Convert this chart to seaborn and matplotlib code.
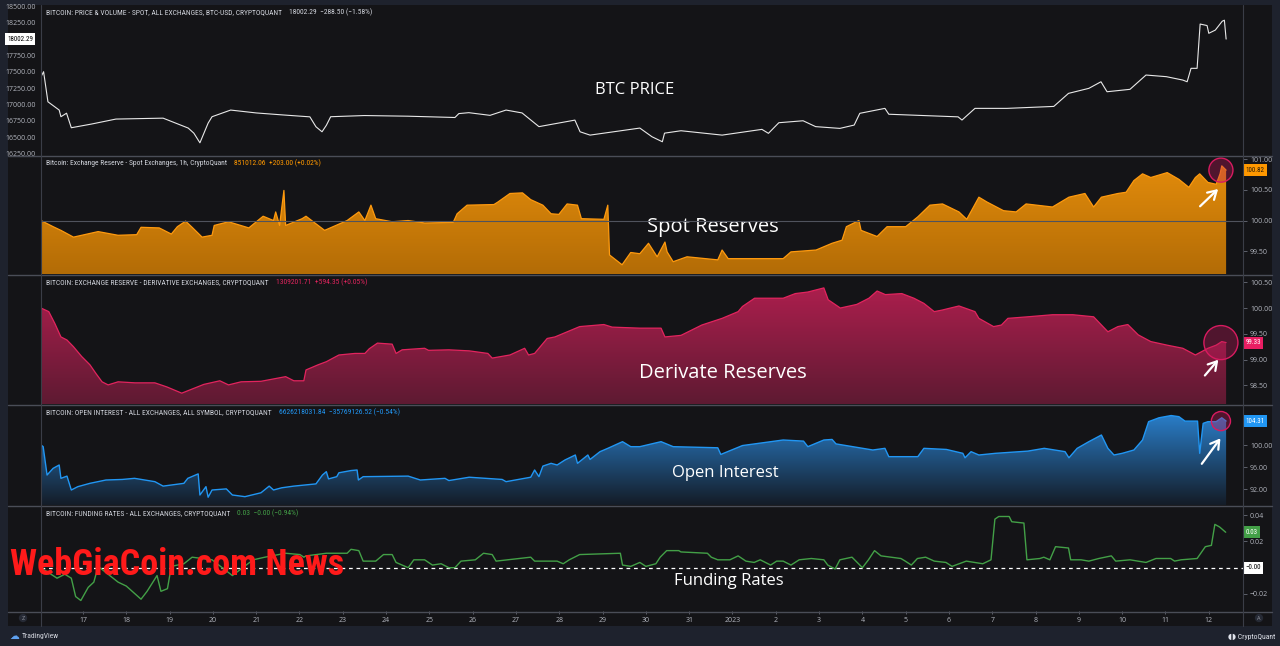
import numpy as np
import matplotlib
matplotlib.use("Agg")
import matplotlib.pyplot as plt
import seaborn as sns
from matplotlib import font_manager
from matplotlib.colors import LinearSegmentedColormap
from matplotlib.lines import Line2D
from matplotlib.patches import Rectangle
from matplotlib.text import OffsetFrom
from matplotlib.ticker import FuncFormatter

# -----------------------
# Data (x = days since 16 Dec 2022 00:00)
# -----------------------
price_days = [0.03, 0.09, 0.19, 0.45, 0.49, 0.62, 0.73, 1.2, 1.76, 2.85, 3.43, 3.56, 3.70, 3.89, 3.98,
              4.41, 5.0, 5.6, 6.24, 6.38, 6.52, 6.62, 6.72, 7.5, 8.5, 9.59, 9.68, 9.91, 10.40, 10.77,
              11.14, 11.53, 12.36, 12.48, 12.71, 13.86, 14.14, 14.38, 14.43, 14.81, 15.76, 16.68,
              16.83, 17.07, 17.63, 17.92, 18.48, 18.81, 18.94, 19.52, 19.61, 21.21, 21.30, 21.60,
              22.34, 23.42, 23.76, 24.23, 24.51, 24.65, 25.18, 25.55, 26.02, 26.40, 26.50, 26.59,
              26.73, 26.80, 26.96, 27.00, 27.15, 27.31, 27.36, 27.40]
price = [17425, 17502, 17041, 16914, 16812, 16866, 16643, 16700, 16776, 16790, 16638, 16560, 16412,
         16714, 16812, 16914, 16870, 16840, 16810, 16658, 16581, 16680, 16812, 16830, 16820, 16800,
         16860, 16874, 16833, 16914, 16870, 16660, 16760, 16581, 16530, 16638, 16505, 16428, 16560,
         16597, 16530, 16618, 16557, 16720, 16750, 16660, 16633, 16684, 16864, 16940, 16850, 16810,
         16761, 16940, 16940, 16970, 17170, 17247, 17348, 17195, 17232, 17451, 17426, 17374, 17348,
         17554, 17554, 18233, 18210, 18091, 18140, 18276, 18292, 18002.29]

spot_days = [0.03, 0.31, 0.49, 0.78, 0.97, 1.35, 1.81, 2.24, 2.34, 2.76, 3.04, 3.18, 3.37, 3.52, 3.75,
             3.98, 4.03, 4.36, 4.83, 5.16, 5.40, 5.45, 5.54, 5.64, 5.68, 6.06, 6.15, 6.58, 7.10, 7.37,
             7.51, 7.65, 7.76, 8.14, 8.51, 8.89, 9.55, 9.64, 9.87, 10.49, 10.58, 10.86, 11.15, 11.34,
             11.62, 11.81, 11.99, 12.18, 12.42, 12.51, 13.03, 13.12, 13.16, 13.45, 13.65, 13.86, 14.06,
             14.26, 14.44, 14.49, 14.63, 14.95, 15.66, 15.76, 15.90, 17.17, 17.35, 17.93, 18.30, 18.53,
             18.63, 18.92, 18.97, 19.34, 19.57, 20.00, 20.28, 20.56, 20.85, 21.23, 21.41, 21.69, 21.88,
             22.26, 22.55, 22.78, 23.39, 23.77, 24.14, 24.34, 24.52, 24.90, 25.09, 25.27, 25.47, 25.66,
             26.04, 26.31, 26.54, 26.69, 26.79, 26.98, 27.17, 27.26, 27.30, 27.40]
spot = [100.00, 99.90, 99.84, 99.73, 99.76, 99.82, 99.76, 99.77, 99.89, 99.88, 99.78, 99.90, 99.99,
        99.89, 99.73, 99.76, 99.92, 99.98, 99.88, 100.07, 100.00, 100.14, 99.92, 100.49, 99.92, 100.03,
        100.07, 99.84, 100.00, 100.14, 100.00, 100.25, 100.03, 99.98, 100.00, 99.96, 99.97, 100.11,
        100.25, 100.26, 100.30, 100.44, 100.45, 100.34, 100.25, 100.11, 100.10, 100.27, 100.25, 100.03,
        100.02, 100.25, 99.44, 99.28, 99.48, 99.46, 99.63, 99.41, 99.65, 99.49, 99.33, 99.41, 99.36,
        99.52, 99.38, 99.38, 99.49, 99.52, 99.63, 99.68, 99.90, 100.00, 99.84, 99.74, 99.90, 99.90,
        100.06, 100.25, 100.27, 100.14, 100.02, 100.38, 100.30, 100.16, 100.14, 100.27, 100.22, 100.38,
        100.44, 100.22, 100.38, 100.44, 100.46, 100.65, 100.76, 100.70, 100.78, 100.67, 100.54, 100.70,
        100.76, 100.62, 100.59, 100.76, 100.89, 100.82]

deriv_days = [0.03, 0.21, 0.35, 0.49, 0.63, 0.78, 0.97, 1.16, 1.30, 1.44, 1.58, 1.81, 2.20, 2.66, 2.94,
              3.28, 3.79, 4.16, 4.36, 4.65, 5.11, 5.68, 5.87, 6.10, 6.15, 6.43, 6.62, 6.91, 7.28, 7.51,
              7.61, 7.80, 8.14, 8.23, 8.37, 8.89, 8.98, 9.45, 9.92, 10.35, 10.45, 10.86, 11.20, 11.29,
              11.43, 11.72, 11.90, 12.47, 13.03, 13.22, 13.86, 14.35, 14.44, 14.81, 15.29, 15.76, 16.13,
              16.23, 16.51, 17.17, 17.45, 17.74, 18.11, 18.21, 18.49, 18.87, 19.15, 19.34, 19.53, 19.91,
              20.19, 20.42, 20.66, 20.84, 21.23, 21.60, 21.69, 22.03, 22.21, 22.36, 22.82, 23.39, 23.86,
              24.34, 24.67, 24.90, 25.13, 25.37, 25.66, 26.04, 26.40, 26.69, 26.98, 27.17, 27.30, 27.40]
deriv = [100.00, 99.93, 99.70, 99.44, 99.38, 99.25, 99.06, 98.90, 98.73, 98.57, 98.51, 98.57, 98.55,
         98.55, 98.47, 98.35, 98.52, 98.59, 98.51, 98.57, 98.58, 98.67, 98.59, 98.59, 98.80, 98.90,
         98.96, 99.09, 99.12, 99.12, 99.21, 99.32, 99.30, 99.12, 99.19, 99.22, 99.18, 99.19, 99.17,
         99.12, 99.03, 99.09, 99.22, 99.09, 99.12, 99.41, 99.44, 99.64, 99.68, 99.63, 99.61, 99.61,
         99.44, 99.47, 99.67, 99.80, 99.93, 100.03, 100.19, 100.19, 100.28, 100.31, 100.39, 100.16,
         100.00, 100.07, 100.19, 100.33, 100.26, 100.28, 100.19, 100.09, 99.93, 99.96, 100.04, 99.93,
         99.80, 99.64, 99.67, 99.80, 99.83, 99.87, 99.87, 99.83, 99.54, 99.64, 99.68, 99.48, 99.35,
         99.28, 99.22, 99.09, 99.22, 99.28, 99.35, 99.33]

oi_days = [0.03, 0.08, 0.17, 0.31, 0.45, 0.49, 0.63, 0.73, 0.88, 1.16, 1.53, 1.91, 2.19, 2.66, 2.85,
           3.33, 3.42, 3.66, 3.70, 3.84, 3.89, 3.98, 4.31, 4.45, 4.74, 5.11, 5.30, 5.40, 5.59, 5.87,
           6.38, 6.53, 6.62, 6.67, 6.86, 6.91, 7.19, 7.33, 7.36, 7.47, 8.51, 8.79, 9.36, 9.45, 9.92,
           10.68, 10.77, 11.34, 11.43, 11.53, 11.62, 11.81, 11.95, 12.13, 12.37, 12.42, 12.66, 12.71,
           12.94, 13.12, 13.46, 13.65, 13.86, 14.35, 14.63, 15.66, 15.73, 16.23, 17.17, 17.64, 17.74,
           18.11, 18.30, 18.39, 19.24, 19.52, 19.61, 20.28, 20.42, 20.94, 21.32, 21.37, 21.51, 21.69,
           22.07, 22.82, 23.20, 23.68, 23.77, 23.96, 24.23, 24.52, 24.67, 24.81, 25.00, 25.27, 25.47,
           25.61, 25.85, 26.13, 26.31, 26.45, 26.74, 26.79, 26.87, 26.98, 27.17, 27.30, 27.40]
oi = [100.0, 99.7, 94.6, 95.8, 96.4, 94.0, 94.4, 91.9, 92.5, 93.1, 93.7, 93.8, 94.0, 93.4, 92.6, 93.1,
      94.0, 94.8, 91.0, 92.5, 90.6, 91.9, 92.1, 91.0, 90.7, 91.4, 92.6, 91.9, 92.3, 92.6, 93.0, 94.6,
      95.2, 93.9, 94.3, 95.0, 95.4, 95.5, 93.7, 94.3, 94.4, 93.7, 94.0, 93.6, 94.2, 93.8, 93.4, 94.2,
      95.5, 94.3, 96.2, 96.7, 96.4, 97.3, 98.2, 96.7, 98.2, 97.4, 98.8, 99.4, 100.6, 99.7, 99.7, 100.6,
      99.7, 99.5, 98.3, 99.9, 100.9, 100.7, 99.7, 100.9, 101.0, 100.2, 99.1, 99.4, 97.9, 97.9, 99.4,
      99.2, 98.5, 97.7, 98.8, 98.2, 98.5, 98.9, 99.4, 98.8, 97.7, 99.4, 100.6, 101.8, 99.4, 98.2, 98.5,
      99.1, 100.9, 104.2, 104.9, 105.3, 105.1, 104.3, 104.3, 98.5, 103.9, 104.2, 104.2, 104.9, 104.31]

fund_days = [0.03, 0.17, 0.40, 0.58, 0.73, 0.83, 0.95, 1.12, 1.25, 1.35, 1.81, 2.00, 2.34, 2.48, 2.71,
             2.80, 2.95, 3.04, 3.33, 3.52, 3.98, 4.45, 4.93, 5.20, 5.68, 6.01, 6.10, 6.15, 6.62, 7.10,
             7.19, 7.37, 7.47, 7.76, 7.94, 8.14, 8.23, 8.51, 8.64, 8.89, 9.07, 9.27, 9.45, 9.59, 9.73,
             10.06, 10.25, 10.45, 10.54, 11.34, 11.43, 11.95, 12.09, 12.23, 12.47, 13.41, 13.46, 13.65,
             13.86, 14.00, 14.23, 14.33, 14.48, 14.76, 14.81, 15.42, 15.51, 15.66, 15.94, 16.13, 16.31,
             16.50, 16.64, 16.88, 17.02, 17.17, 17.35, 17.54, 17.82, 18.11, 18.20, 18.37, 18.48, 18.76,
             18.91, 19.00, 19.14, 19.28, 19.43, 19.89, 19.99, 20.13, 20.27, 20.46, 20.66, 20.93, 21.07,
             21.40, 21.78, 21.97, 22.06, 22.15, 22.39, 22.45, 22.73, 22.80, 23.10, 23.19, 23.33, 23.46,
             23.76, 23.81, 24.05, 24.23, 24.46, 24.75, 24.85, 25.18, 25.55, 25.78, 26.12, 26.21, 26.36,
             26.73, 26.92, 27.06, 27.14, 27.25, 27.39]
fund = [0.000, -0.003, -0.008, -0.005, -0.008, -0.022, -0.025, -0.015, -0.011, 0.001, -0.011, -0.014,
        -0.024, -0.018, -0.006, -0.018, -0.016, 0.001, 0.003, 0.008, 0.006, -0.006, 0.006, 0.008, 0.011,
        0.010, 0.008, 0.009, 0.011, 0.011, 0.014, 0.013, 0.005, 0.005, 0.010, 0.010, 0.004, 0.000, 0.006,
        0.006, 0.002, 0.003, 0.000, 0.000, 0.005, 0.006, 0.011, 0.010, 0.005, 0.008, 0.005, 0.005, 0.003,
        0.006, 0.010, 0.011, 0.002, 0.001, 0.004, 0.001, 0.003, 0.008, 0.013, 0.013, 0.012, 0.011, 0.008,
        0.006, 0.006, 0.009, 0.005, 0.004, 0.006, 0.002, 0.005, 0.005, 0.002, 0.006, 0.007, 0.006, 0.002,
        -0.001, 0.006, 0.008, 0.003, 0.000, 0.006, 0.013, 0.009, 0.007, 0.005, 0.002, 0.007, 0.008, 0.005,
        0.004, 0.001, 0.005, 0.003, 0.006, 0.037, 0.039, 0.039, 0.035, 0.034, 0.006, 0.007, 0.008, 0.006,
        0.016, 0.015, 0.006, 0.006, 0.005, 0.007, 0.009, 0.005, 0.006, 0.004, 0.007, 0.007, 0.005, 0.006,
        0.007, 0.016, 0.017, 0.033, 0.031, 0.027]

tick_days = list(range(1, 28))
date_labels = ["17", "18", "19", "20", "21", "22", "23", "24", "25", "26", "27", "28", "29", "30", "31",
               "2023", "2", "3", "4", "5", "6", "7", "8", "9", "10", "11", "12"]

# -----------------------
# Style / layout
# -----------------------
sns.set_theme(style="dark")
plt.rcParams['font.family'] = ['Open Sans', 'DejaVu Sans']

# pick a narrow face if one is installed, otherwise shrink the normal one
names = {f.name for f in font_manager.fontManager.ttflist}
narrow_fp = dict(family=['DejaVu Sans'], stretch='condensed')
condensed = any(f.name == 'DejaVu Sans' and f.stretch in ('condensed', 'semi-condensed', 600, 700)
                for f in font_manager.fontManager.ttflist)
if 'Liberation Sans Narrow' in names:
    narrow_fp = dict(family=['Liberation Sans Narrow', 'DejaVu Sans'])
    condensed = True
elif 'Roboto Condensed' in names:
    narrow_fp = dict(family=['Roboto Condensed', 'DejaVu Sans'])
    condensed = True
SMALL = 5 if condensed else 4.4
HEAD = 5.4 if condensed else 4.7
WM_SIZE = 26 if condensed else 18.5

W, H = 1280, 646
BG = '#141417'
FRAME = '#1e222d'
SEP = '#4a4d57'
TXT = '#b2b5be'
X0, X1 = 41, 1243
XLIM = (0.03, 27.79)


def px_rect(x0, y0, x1, y1):
    return [x0 / W, 1 - y1 / H, (x1 - x0) / W, (y1 - y0) / H]


fig = plt.figure(figsize=(12.8, 6.46), dpi=100, facecolor=FRAME)
fig.add_artist(Rectangle((8 / W, 1 - 626 / H), 1264 / W, 621 / H, transform=fig.transFigure,
                         fc=BG, ec='none', zorder=-5))


def make_panel(y0, y1, ylim, right=True):
    ax = fig.add_axes(px_rect(X0, y0, X1, y1))
    ax.set_facecolor(BG)
    for s in ax.spines.values():
        s.set_visible(False)
    ax.grid(False)
    if right:
        ax.yaxis.tick_right()
    ax.tick_params(axis='y', colors='#6a6d78', labelcolor=TXT, labelsize=SMALL, length=3, width=0.6,
                   pad=2 if right else 1)
    ax.tick_params(axis='x', bottom=False, labelbottom=False)
    ax.yaxis.set_major_formatter(FuncFormatter(lambda v, p: f"{v:.2f}".replace('-', '\u2212')))
    ax.set_ylim(ylim)
    return ax


def finish(ax, ylim):
    ax.set_xlim(XLIM)
    ax.set_ylim(ylim)
    ax.set_xlabel('')
    ax.set_ylabel('')


def gradient_area(ax, x, y, top, bottom, ylim):
    coll = ax.fill_between(x, y, ylim[0], color='none', lw=0)
    cmap = LinearSegmentedColormap.from_list('g', [bottom, top])
    grad = np.linspace(0, 1, 256).reshape(-1, 1)
    im = ax.imshow(grad, cmap=cmap, origin='lower', aspect='auto',
                   extent=[XLIM[0], XLIM[1], ylim[0], ylim[1]], zorder=1)
    im.set_clip_path(coll.get_paths()[0], ax.transData)


def header(ax, title, extra, color):
    t = ax.annotate(title, xy=(0, 1), xycoords='axes fraction', xytext=(3.6, -5.6),
                    textcoords='offset points', va='center', ha='left', fontsize=HEAD,
                    color='#d1d4dc', **narrow_fp)
    ax.annotate(extra, xy=(1, 0.5), xycoords=t, xytext=(5, 0), textcoords='offset points',
                va='center', ha='left', fontsize=HEAD, color=color, **narrow_fp)


def value_box(ax, y, text, fc, tc, x=1.002):
    ax.text(x, y, text, transform=ax.get_yaxis_transform(), ha='left', va='center', fontsize=SMALL,
            color=tc, clip_on=False, zorder=10,
            bbox=dict(boxstyle='square,pad=0.35', fc=fc, ec='none'), **narrow_fp)


def highlight(ax, x, y, size, head, tail):
    ax.scatter([x - 0.12], [y], s=size, facecolor='#c2185b', alpha=0.35, edgecolor='none', zorder=6)
    ax.scatter([x - 0.12], [y], s=size, facecolor='none', edgecolor='#d81b60', lw=1, zorder=6)
    ref = OffsetFrom(ax.transData, (x, y))
    ax.annotate('', xy=head, xycoords=ref, xytext=tail, textcoords=ref,
                arrowprops=dict(arrowstyle='->,head_length=0.5,head_width=0.3', color='white', lw=1.6),
                zorder=7)


# Panel 1: BTC price
lim1 = (16225, 18525)
ax1 = make_panel(5, 155, lim1, right=False)
sns.lineplot(x=price_days, y=price, ax=ax1, color='#e8e8e8', linewidth=0.8, estimator=None, sort=False)
finish(ax1, lim1)
ax1.set_yticks([16250, 16500, 16750, 17000, 17250, 17500, 17750, 18250, 18500])
ax1.text(-0.0283, price[-1], f"{price[-1]:.2f}", transform=ax1.get_yaxis_transform(), ha='left',
         va='center', fontsize=SMALL, color='black', clip_on=False, zorder=10,
         bbox=dict(boxstyle='square,pad=0.35', fc='white', ec='none'), **narrow_fp)
header(ax1, "BITCOIN: PRICE & VOLUME - SPOT, ALL EXCHANGES, BTC-USD, CRYPTOQUANT",
       "18002.29  \u2212288.50 (\u22121.58%)", '#d1d4dc')
ax1.text(0.494, 0.433, "BTC PRICE", transform=ax1.transAxes, ha='center', va='center',
         fontsize=12, color='white')

# Panel 2: spot reserves
lim2 = (99.13, 101.05)
ax2 = make_panel(156, 274, lim2)
gradient_area(ax2, spot_days, spot, '#e68e0c', '#b36c06', lim2)
sns.lineplot(x=spot_days, y=spot, ax=ax2, color='#ff9a0e', linewidth=0.9, estimator=None, sort=False,
             zorder=3)
ax2.axhline(100, color='#50535d', lw=0.8, zorder=4)
finish(ax2, lim2)
ax2.set_yticks([99.5, 100.0, 100.5, 101.0])
value_box(ax2, spot[-1], f"{spot[-1]:.2f}", '#ff9800', '#2a1a05')
header(ax2, "Bitcoin: Exchange Reserve - Spot Exchanges, 1h, CryptoQuant",
       "851012.06  +203.00 (+0.02%)", '#ff9800')
ax2.text(0.559, 0.40, "Spot Reserves", transform=ax2.transAxes, ha='center', va='center',
         fontsize=14.5, color='white')
highlight(ax2, spot_days[-1], spot[-1], 300, (-4.3, -12.2), (-20.2, -27.4))

# Panel 3: derivative reserves
lim3 = (98.14, 100.64)
ax3 = make_panel(275, 404, lim3)
gradient_area(ax3, deriv_days, deriv, '#b41f50', '#5e1a32', lim3)
sns.lineplot(x=deriv_days, y=deriv, ax=ax3, color='#e2245e', linewidth=0.9, estimator=None, sort=False,
             zorder=3)
finish(ax3, lim3)
ax3.set_yticks([98.5, 99.0, 99.5, 100.0, 100.5])
value_box(ax3, deriv[-1], f"{deriv[-1]:.2f}", '#e91e63', 'white')
header(ax3, "BITCOIN: EXCHANGE RESERVE - DERIVATIVE EXCHANGES, CRYPTOQUANT",
       "1309201.71  +594.35 (+0.05%)", '#e2245e')
ax3.text(0.567, 0.24, "Derivate Reserves", transform=ax3.transAxes, ha='center', va='center',
         fontsize=14.5, color='white')
highlight(ax3, deriv_days[-1], deriv[-1], 600, (-4.3, -10.8), (-16.6, -25.2))

# Panel 4: open interest
lim4 = (89.2, 107.2)
ax4 = make_panel(405, 505, lim4)
gradient_area(ax4, oi_days, oi, '#2c88da', '#141c27', lim4)
sns.lineplot(x=oi_days, y=oi, ax=ax4, color='#2196f3', linewidth=1.0, estimator=None, sort=False,
             zorder=3)
finish(ax4, lim4)
ax4.set_yticks([92, 96, 100])
value_box(ax4, oi[-1], f"{oi[-1]:.2f}", '#2196f3', 'white')
header(ax4, "BITCOIN: OPEN INTEREST - ALL EXCHANGES, ALL SYMBOL, CRYPTOQUANT",
       "6626218031.84  \u221235769126.52 (\u22120.54%)", '#2196f3')
ax4.text(0.569, 0.32, "Open Interest", transform=ax4.transAxes, ha='center', va='center',
         fontsize=12, color='white')
highlight(ax4, oi_days[-1], oi[-1], 190, (-2.9, -10.8), (-18.7, -32.4))

# Panel 5: funding rates
lim5 = (-0.033, 0.047)
ax5 = make_panel(506, 611, lim5)
sns.lineplot(x=fund_days, y=fund, ax=ax5, color='#43a047', linewidth=1.0, estimator=None, sort=False,
             zorder=3)
ax5.axhline(0, color='white', lw=0.9, ls=(0, (3, 3)), zorder=2)
finish(ax5, lim5)
ax5.set_yticks([-0.02, 0.02, 0.04])
value_box(ax5, fund[-1], "0.03", '#43a047', 'white')
value_box(ax5, 0, "\u22120.00", 'white', 'black')
header(ax5, "BITCOIN: FUNDING RATES - ALL EXCHANGES, CRYPTOQUANT",
       "0.03  \u22120.00 (\u22120.94%)", '#43a047')
ax5.text(0.572, 0.286, "Funding Rates", transform=ax5.transAxes, ha='center', va='center',
         fontsize=12, color='white')
ax5.set_xticks(tick_days)
ax5.set_xticklabels(date_labels)
ax5.tick_params(axis='x', bottom=True, labelbottom=True, colors='#6a6d78', labelcolor=TXT,
                labelsize=SMALL, length=2, width=0.6, pad=2)

# separators
for y in [155.5, 274.5, 404.5, 505.5, 611.5]:
    fig.add_artist(Line2D([8 / W, 1272 / W], [1 - y / H] * 2, color=SEP, lw=1))
for x in [41, 1243]:
    fig.add_artist(Line2D([x / W] * 2, [1 - 5 / H, 1 - 626 / H], color='#3a3d47', lw=0.8))

# bottom controls and logos
for x, s in [(23, 'Z'), (1259, 'A')]:
    fig.text(x / W, 1 - 618 / H, s, ha='center', va='center', fontsize=4, color='#9598a1',
             bbox=dict(boxstyle='circle,pad=0.3', fc='#262a35', ec='none'))
fig.text(9 / W, 1 - 636 / H, "\u2601", ha='left', va='center', fontsize=7, color='#5ea0ef')
fig.text(22 / W, 1 - 636 / H, "TradingView", ha='left', va='center', fontsize=5.5, color='#d1d4dc',
         **narrow_fp)
fig.text(1275 / W, 1 - 637 / H, "\u25d6\u25d7 CryptoQuant", ha='right', va='center', fontsize=5.5,
         color='#e0e3eb', **narrow_fp)

# watermark
fig.text(10 / W, 1 - 565 / H, "WebGiaCoin.com News", ha='left', va='center', fontsize=WM_SIZE,
         fontweight='bold', color='#ff1a1a', zorder=20, **narrow_fp)

fig.savefig("out.png", dpi=100, facecolor=FRAME)
